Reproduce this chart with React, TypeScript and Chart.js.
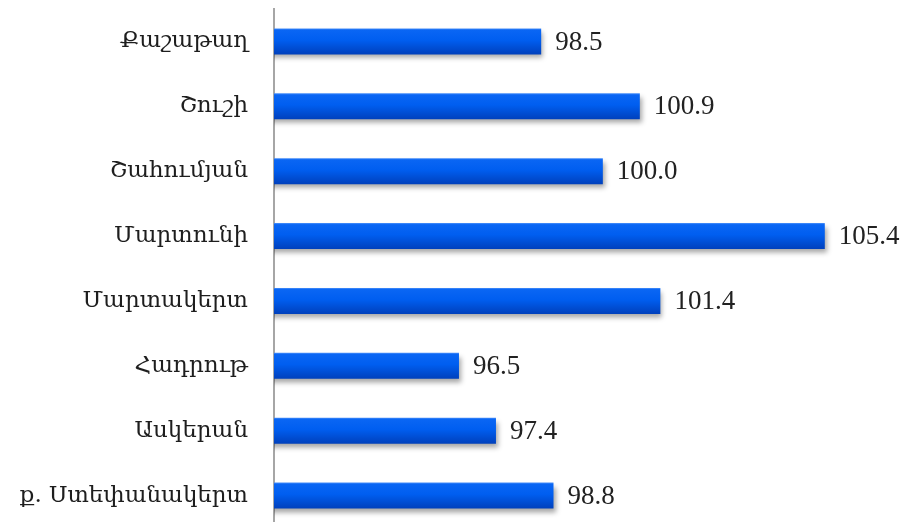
import React, { useEffect, useRef } from "react";
import { Chart, registerables } from "chart.js";

Chart.register(...registerables);

const categories = [
  "Քաշաթաղ",
  "Շուշի",
  "Շահումյան",
  "Մարտունի",
  "Մարտակերտ",
  "Հադրութ",
  "Ասկերան",
  "ք. Ստեփանակերտ",
];
const values = [98.5, 100.9, 100.0, 105.4, 101.4, 96.5, 97.4, 98.8];
const valueLabels = ["98.5", "100.9", "100.0", "105.4", "101.4", "96.5", "97.4", "98.8"];

const W = 907;
const H = 528;
const BAR_PCT = 0.4;

const barShadow = {
  id: "barShadow",
  beforeDatasetsDraw(chart: any) {
    const ctx = chart.ctx;
    ctx.save();
    ctx.shadowColor = "rgba(0,0,0,0.35)";
    ctx.shadowBlur = 5;
    ctx.shadowOffsetX = 2;
    ctx.shadowOffsetY = 4;
  },
  afterDatasetsDraw(chart: any) {
    chart.ctx.restore();
    const ctx = chart.ctx;
    const meta = chart.getDatasetMeta(0);
    ctx.save();
    ctx.font = '27px "Liberation Serif", serif';
    ctx.fillStyle = "#222";
    ctx.textAlign = "left";
    ctx.textBaseline = "middle";
    meta.data.forEach((bar: any, i: number) => {
      ctx.fillText(valueLabels[i], bar.x + 14, bar.y + 1);
    });
    ctx.restore();
  },
};

export default function App() {
  const ref = useRef<HTMLCanvasElement>(null);
  useEffect(() => {
    document.body.style.margin = "0";
    const canvas = ref.current!;
    const chart = new Chart(canvas, {
      type: "bar",
      data: {
        labels: categories,
        datasets: [
          {
            data: values,
            backgroundColor: (c: any) => {
              const chartObj = c.chart;
              const ys = chartObj.scales?.y;
              const area = chartObj.chartArea;
              if (!ys || !area || c.dataIndex === undefined) return "#0058e8";
              const step = (area.bottom - area.top) / categories.length;
              const yc = ys.getPixelForValue(c.dataIndex);
              const half = (step * BAR_PCT) / 2;
              if (!isFinite(yc) || !isFinite(half)) return "#0058e8";
              const g = chartObj.ctx.createLinearGradient(0, yc - half, 0, yc + half);
              g.addColorStop(0, "#4a90fa");
              g.addColorStop(0.06, "#0a66f4");
              g.addColorStop(0.45, "#005ef0");
              g.addColorStop(1, "#0040bc");
              return g;
            },
            borderWidth: 0,
            barPercentage: BAR_PCT,
            categoryPercentage: 1,
          },
        ],
      },
      options: {
        indexAxis: "y",
        responsive: false,
        animation: false,
        devicePixelRatio: 1,
        layout: { padding: { top: 9, right: 0, bottom: 0, left: 0 } },
        plugins: {
          legend: { display: false },
          tooltip: { enabled: false },
        },
        scales: {
          x: {
            display: false,
            min: 92,
            max: 107.4,
          },
          y: {
            afterFit: (s: any) => {
              s.width = 274;
              s.paddingTop = 0;
              s.paddingBottom = 0;
            },
            grid: { display: false, drawTicks: false },
            border: { display: true, color: "#a6a6a6", width: 2 },
            ticks: {
              color: "#1e1e1e",
              padding: 26,
              font: { family: '"DejaVu Serif", serif', size: 23 },
            },
          },
        },
      },
      plugins: [barShadow],
    } as any);
    return () => chart.destroy();
  }, []);
  return (
    <div style={{ position: "absolute", left: 0, top: 0, width: W, height: 522, overflow: "hidden" }}>
      <canvas ref={ref} width={W} height={H} style={{ display: "block" }} />
    </div>
  );
}
